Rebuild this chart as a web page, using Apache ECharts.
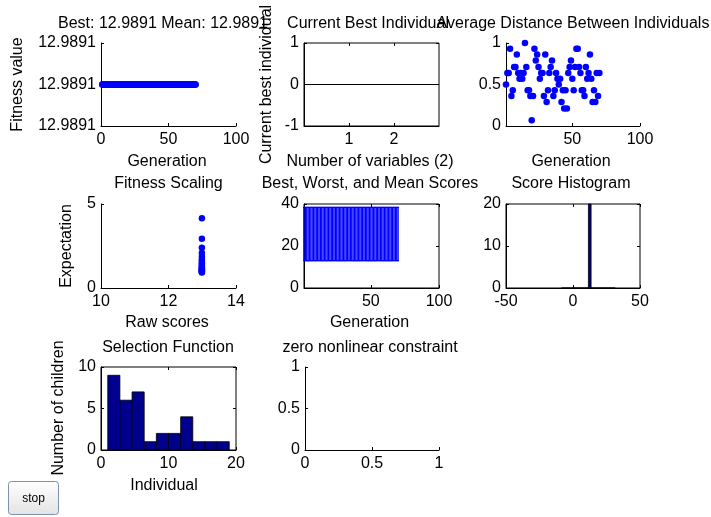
<!DOCTYPE html>
<html><head><meta charset="utf-8">
<script src="https://cdn.jsdelivr.net/npm/echarts@6/dist/echarts.min.js"></script>
<style>html,body{margin:0;padding:0;background:#fff;}#c{width:711px;height:517px;}</style>
</head><body><div id="c"></div>
<script>
// ---------------- data ----------------
const generations = [1,2,3,4,5,6,7,8,9,10,11,12,13,14,15,16,17,18,19,20,21,22,23,24,25,26,27,28,29,30,31,32,33,34,35,36,37,38,39,40,41,42,43,44,45,46,47,48,49,50,51,52,53,54,55,56,57,58,59,60,61,62,63,64,65,66,67,68,69,70];
const bestFitness = [
12.9891,12.9891,12.9891,12.9891,12.9891,12.9891,12.9891,12.9891,12.9891,12.9891,
12.9891,12.9891,12.9891,12.9891,12.9891,12.9891,12.9891,12.9891,12.9891,12.9891,
12.9891,12.9891,12.9891,12.9891,12.9891,12.9891,12.9891,12.9891,12.9891,12.9891,
12.9891,12.9891,12.9891,12.9891,12.9891,12.9891,12.9891,12.9891,12.9891,12.9891,
12.9891,12.9891,12.9891,12.9891,12.9891,12.9891,12.9891,12.9891,12.9891,12.9891,
12.9891,12.9891,12.9891,12.9891,12.9891,12.9891,12.9891,12.9891,12.9891,12.9891,
12.9891,12.9891,12.9891,12.9891,12.9891,12.9891,12.9891,12.9891,12.9891,12.9891];
const meanFitness = [
12.9891,12.9891,12.9891,12.9891,12.9891,12.9891,12.9891,12.9891,12.9891,12.9891,
12.9891,12.9891,12.9891,12.9891,12.9891,12.9891,12.9891,12.9891,12.9891,12.9891,
12.9891,12.9891,12.9891,12.9891,12.9891,12.9891,12.9891,12.9891,12.9891,12.9891,
12.9891,12.9891,12.9891,12.9891,12.9891,12.9891,12.9891,12.9891,12.9891,12.9891,
12.9891,12.9891,12.9891,12.9891,12.9891,12.9891,12.9891,12.9891,12.9891,12.9891,
12.9891,12.9891,12.9891,12.9891,12.9891,12.9891,12.9891,12.9891,12.9891,12.9891,
12.9891,12.9891,12.9891,12.9891,12.9891,12.9891,12.9891,12.9891,12.9891,12.9891];
const fitnessTicks = [12.98909, 12.9891, 12.98911];

const variableIndex = [1, 2];
const currentBest = [0, 0];

const avgDistance = [
0.50,0.64,0.64,0.93,0.36,0.43,0.71,0.71,0.86,0.64,
0.57,0.64,0.57,0.64,1.00,0.71,0.43,0.43,0.36,0.07,
0.36,0.93,0.79,0.86,0.71,0.57,0.64,0.64,0.36,0.86,
0.29,0.43,0.64,0.71,0.79,0.36,0.43,0.64,0.57,0.50,
0.57,0.29,0.43,0.21,0.43,0.21,0.64,0.71,0.79,0.57,
0.43,0.71,0.93,0.93,0.71,0.64,0.43,0.43,0.36,0.71,
0.57,0.64,0.86,0.57,0.29,0.43,0.29,0.64,0.36,0.64];
const distanceXTicks = [50, 100];

const rawScores = [12.9891,12.9891,12.9891,12.9891,12.9891,12.9891,12.9891,12.9891,12.9891,12.9891,
12.9891,12.9891,12.9891,12.9891,12.9891,12.9891,12.9891,12.9891,12.9891,12.9891];
const expectation = [4.15,2.93,2.40,2.08,1.86,1.69,1.57,1.47,1.38,1.31,1.25,1.20,1.15,1.11,1.07,1.04,1.01,0.98,0.95,0.93];

const bestScores = [
12.9891,12.9891,12.9891,12.9891,12.9891,12.9891,12.9891,12.9891,12.9891,12.9891,
12.9891,12.9891,12.9891,12.9891,12.9891,12.9891,12.9891,12.9891,12.9891,12.9891,
12.9891,12.9891,12.9891,12.9891,12.9891,12.9891,12.9891,12.9891,12.9891,12.9891,
12.9891,12.9891,12.9891,12.9891,12.9891,12.9891,12.9891,12.9891,12.9891,12.9891,
12.9891,12.9891,12.9891,12.9891,12.9891,12.9891,12.9891,12.9891,12.9891,12.9891,
12.9891,12.9891,12.9891,12.9891,12.9891,12.9891,12.9891,12.9891,12.9891,12.9891,
12.9891,12.9891,12.9891,12.9891,12.9891,12.9891,12.9891,12.9891,12.9891,12.9891];
const worstScores = [
38.4,38.4,38.4,38.4,38.4,38.4,38.4,38.4,38.4,38.4,
38.4,38.4,38.4,38.4,38.4,38.4,38.4,38.4,38.4,38.4,
38.4,38.4,38.4,38.4,38.4,38.4,38.4,38.4,38.4,38.4,
38.4,38.4,38.4,38.4,38.4,38.4,38.4,38.4,38.4,38.4,
38.4,38.4,38.4,38.4,38.4,38.4,38.4,38.4,38.4,38.4,
38.4,38.4,38.4,38.4,38.4,38.4,38.4,38.4,38.4,38.4,
38.4,38.4,38.4,38.4,38.4,38.4,38.4,38.4,38.4,38.4];
const scoresXTicks = [50, 100];

const scoreBinCenters = [-7.5,-5.5,-3.5,-1.5,0.5,2.5,4.5,6.5,8.5,10.5,12.5,14.5,16.5,18.5,20.5,22.5,24.5,26.5,28.5,30.5];
const scoreBinCounts  = [0,0,0,0,0,0,0,0,0,0,20,0,0,0,0,0,0,0,0,0];
const scoreBinWidth = 2;

const selectionBinCenters = [1.9,3.7,5.5,7.3,9.1,10.9,12.7,14.5,16.3,18.1];
const selectionCounts = [9,6,7,1,2,2,4,1,1,1];
const selectionBinWidth = 1.8;

// ---------------- layout / style ----------------
const FONT = '"Liberation Sans", Arial, Helvetica, sans-serif';
const FS = 16;
const grids = [
  {l:101, t:43,  w:135, h:83, box:false},
  {l:304, t:43,  w:135, h:83, box:true},
  {l:506, t:43,  w:134, h:83, box:false},
  {l:101, t:204, w:135, h:84, box:false},
  {l:304, t:204, w:135, h:84, box:true},
  {l:506, t:204, w:134, h:84, box:true},
  {l:101, t:367, w:135, h:83, box:true},
  {l:305, t:367, w:134, h:83, box:false}
];
const axesCfg = [
  {x:{min:0,max:100,interval:50}, y:{min:12.98909,max:12.98911,ticks:fitnessTicks,fmt:v=>v.toFixed(4)}},
  {x:{min:0,max:3,ticks:variableIndex}, y:{min:-1,max:1,interval:1}},
  {x:{min:1,max:100,ticks:distanceXTicks}, y:{min:0,max:1,interval:0.5}},
  {x:{min:10,max:14,interval:2}, y:{min:0,max:5,interval:5}},
  {x:{min:1,max:100,ticks:scoresXTicks}, y:{min:0,max:40,interval:20}},
  {x:{min:-50,max:50,interval:50}, y:{min:0,max:20,interval:10}},
  {x:{min:0,max:20,interval:10}, y:{min:0,max:10,interval:5}},
  {x:{min:0,max:1,interval:0.5}, y:{min:0,max:1,interval:0.5}}
];

function mkAxis(kind, gi, o, mirror){
  const a = {
    type:'value', gridIndex:gi, min:o.min, max:o.max,
    position: kind==='x' ? (mirror?'top':'bottom') : (mirror?'right':'left'),
    axisLine:{show:!mirror, onZero:false, lineStyle:{color:'#000', width:1}},
    axisTick:{show:true, inside:true, length:3, lineStyle:{color:'#000', width:1}},
    axisLabel:{show:!mirror, color:'#000', fontSize:FS, fontFamily:FONT, margin: kind==='x'?6:5},
    splitLine:{show:false}, splitArea:{show:false}
  };
  if (o.interval !== undefined) a.interval = o.interval;
  if (o.ticks){ a.axisTick.customValues = o.ticks; a.axisLabel.customValues = o.ticks; }
  if (o.fmt) a.axisLabel.formatter = o.fmt;
  return a;
}

const xAxes = [], yAxes = [];
grids.forEach((g,i)=>{ xAxes.push(mkAxis('x', i, axesCfg[i].x, false)); yAxes.push(mkAxis('y', i, axesCfg[i].y, false)); });
grids.forEach((g,i)=>{ if (g.box){ xAxes.push(mkAxis('x', i, axesCfg[i].x, true)); yAxes.push(mkAxis('y', i, axesCfg[i].y, true)); } });

const BLUE = '#0000ff';
const NAVY = '#00008c';

function histRender(width){
  return function(params, api){
    const c = api.value(0), n = api.value(1);
    const p0 = api.coord([c - width/2, n]);
    const p1 = api.coord([c + width/2, 0]);
    return {type:'rect', shape:{x:p0[0], y:p0[1], width:p1[0]-p0[0], height:p1[1]-p0[1]},
      style:{fill:NAVY, stroke:'#000', lineWidth:0.8}};
  };
}
const capHalf = 0.69;
function rangeRender(params, api){
  const g = api.value(0), lo = api.value(1), hi = api.value(2);
  const a = api.coord([g, hi]), b = api.coord([g, lo]);
  const tl = api.coord([g-capHalf, hi]), tr = api.coord([g+capHalf, hi]);
  const bl = api.coord([g-capHalf, lo]), br = api.coord([g+capHalf, lo]);
  const st = {stroke:BLUE, lineWidth:1.3};
  return {type:'group', children:[
    {type:'line', shape:{x1:a[0],y1:a[1],x2:b[0],y2:b[1]}, style:st},
    {type:'line', shape:{x1:tl[0],y1:tl[1],x2:tr[0],y2:tr[1]}, style:st},
    {type:'line', shape:{x1:bl[0],y1:bl[1],x2:br[0],y2:br[1]}, style:st}
  ]};
}

const dot = {color:BLUE, opacity:1};
const series = [
  {type:'scatter', xAxisIndex:0, yAxisIndex:0, symbolSize:6.5, itemStyle:{color:'#000', opacity:1},
   data: generations.map((g,i)=>[g,bestFitness[i]])},
  {type:'scatter', xAxisIndex:0, yAxisIndex:0, symbolSize:6.5, itemStyle:dot,
   data: generations.map((g,i)=>[g,meanFitness[i]])},
  {type:'bar', xAxisIndex:1, yAxisIndex:1, barWidth:'40%', itemStyle:{color:NAVY},
   data: variableIndex.map((v,i)=>[v,currentBest[i]]),
   markLine:{silent:true, symbol:'none', label:{show:false}, data:[{yAxis:0}],
     lineStyle:{color:'#000', type:'solid', width:1}}},
  {type:'scatter', xAxisIndex:2, yAxisIndex:2, symbolSize:6.5, itemStyle:dot,
   data: generations.map((g,i)=>[g,avgDistance[i]])},
  {type:'scatter', xAxisIndex:3, yAxisIndex:3, symbolSize:6.5, itemStyle:dot,
   data: rawScores.map((r,i)=>[r,expectation[i]])},
  {type:'custom', xAxisIndex:4, yAxisIndex:4, renderItem:rangeRender, encode:{x:0, y:[1,2]},
   data: generations.map((g,i)=>[g,bestScores[i],worstScores[i]])},
  {type:'custom', xAxisIndex:5, yAxisIndex:5, renderItem:histRender(scoreBinWidth), encode:{x:0,y:1},
   data: scoreBinCenters.map((c,i)=>[c,scoreBinCounts[i]])},
  {type:'custom', xAxisIndex:6, yAxisIndex:6, renderItem:histRender(selectionBinWidth), encode:{x:0,y:1},
   data: selectionBinCenters.map((c,i)=>[c,selectionCounts[i]])}
];

function txt(s, x, y, rot){
  return {type:'text', x:x, y:y, rotation: rot||0, silent:true, z:100,
    style:{text:s, align:'center', verticalAlign:'middle', fontSize:FS, fontFamily:FONT, fill:'#000'}};
}
const R = Math.PI/2;
const titleBest = 'Best: ' + bestFitness[bestFitness.length-1].toFixed(4) + ' Mean: ' + meanFitness[meanFitness.length-1].toFixed(4);
const graphics = [
  txt(titleBest, 163, 24),
  txt('Current Best Individual', 368, 24),
  txt('Average Distance Between Individuals', 573, 24),
  txt('Fitness Scaling', 168.5, 184),
  txt('Best, Worst, and Mean Scores', 370, 184),
  txt('Score Histogram', 571, 184),
  txt('Selection Function', 168, 347.5),
  txt('zero nonlinear constraint', 370, 347.5),
  txt('Generation', 167, 162),
  txt('Number of variables (2)', 370, 162),
  txt('Generation', 571, 162),
  txt('Raw scores', 167, 323),
  txt('Generation', 369.5, 323),
  txt('Individual', 164, 486),
  txt('Fitness value', 17.5, 84.5, R),
  txt('Current best individual', 267, 84.5, R),
  txt('Expectation', 67, 246, R),
  txt('Number of children', 58.5, 408, R),
  {type:'group', x:8, y:481, children:[
    {type:'rect', shape:{x:0.5, y:0.5, width:50, height:33, r:3},
     style:{fill:new echarts.graphic.LinearGradient(0,0,0,1,[{offset:0,color:'#ffffff'},{offset:1,color:'#e3e3e3'}]),
            stroke:'#7d92ab', lineWidth:1}},
    {type:'text', x:25.5, y:17.5, style:{text:'stop', align:'center', verticalAlign:'middle', fontSize:12, fontFamily:FONT, fill:'#000'}}
  ]}
];

const chart = echarts.init(document.getElementById('c'), null, {renderer:'canvas'});
chart.setOption({
  animation:false,
  backgroundColor:'#ffffff',
  grid: grids.map(g=>({left:g.l, top:g.t, width:g.w, height:g.h, containLabel:false, outerBoundsMode:'none',
        show:g.box, borderColor:'#000', borderWidth:1, backgroundColor:'transparent'})),
  xAxis: xAxes,
  yAxis: yAxes,
  series: series,
  graphic: graphics
});
</script></body></html>
